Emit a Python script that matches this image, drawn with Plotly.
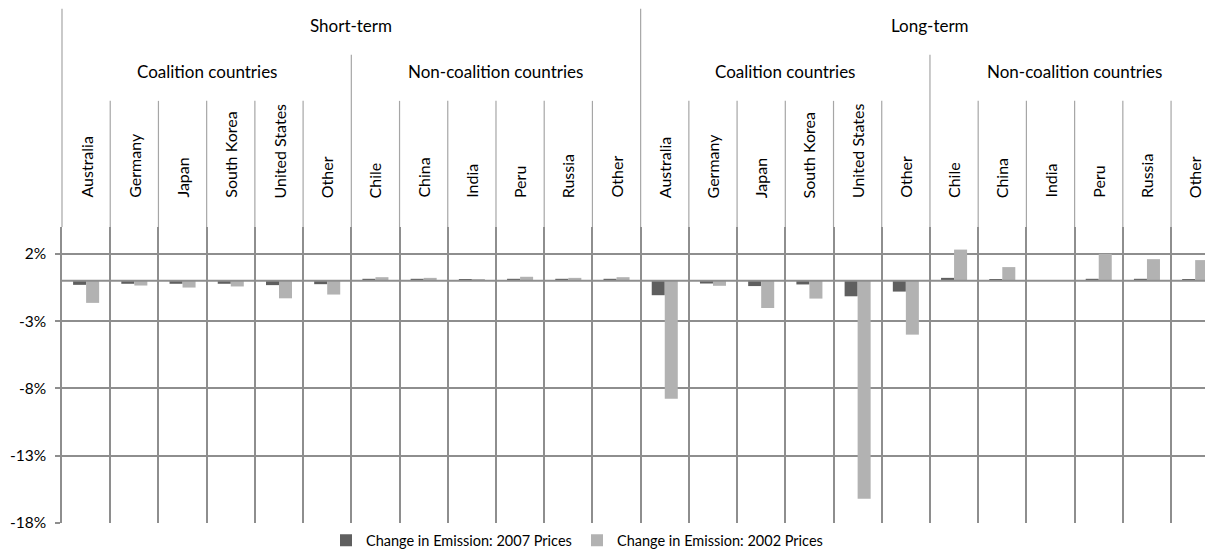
import plotly.graph_objects as go

# ---------------- data ----------------
terms = ["Short-term", "Long-term"]
groups = ["Coalition countries", "Non-coalition countries"]
coalition = ["Australia", "Germany", "Japan", "South Korea", "United States", "Other"]
non_coalition = ["Chile", "China", "India", "Peru", "Russia", "Other"]

st_2007 = [-0.30, -0.22, -0.22, -0.22, -0.32, -0.25, 0.15, 0.15, 0.08, 0.15, 0.15, 0.15]
st_2002 = [-1.64, -0.35, -0.50, -0.42, -1.30, -1.02, 0.27, 0.22, 0.08, 0.30, 0.22, 0.27]
lt_2007 = [-1.07, -0.20, -0.39, -0.27, -1.15, -0.80, 0.22, 0.12, 0.03, 0.15, 0.15, 0.10]
lt_2002 = [-8.76, -0.37, -2.02, -1.32, -16.20, -4.00, 2.32, 1.02, 0.03, 2.00, 1.61, 1.54]

series_names = ["Change in Emission: 2007 Prices", "Change in Emission: 2002 Prices"]
y_ticks = [2, -3, -8, -13, -18]
y_ticktext = ["2%", "-3%", "-8%", "-13%", "-18%"]

# ---------------- layout constants ----------------
OFF = 8  # page body margin offset
W, H = 1213, 550
ML, MR = 62 - OFF, 0
MT = 227 - OFF
MB = H - (522.7 - OFF)
col_w = 48.22
plot_w = W - ML - MR
plot_h = H - MT - MB
y_min, y_max = -18, 4

countries = coalition + non_coalition
labels = countries + countries
n = len(labels)
xs = list(range(n))
v2007 = st_2007 + lt_2007
v2002 = st_2002 + lt_2002

GRID = "#8e8e8e"
FONT = "Lato"

def py(pix):
    """page pixel y -> paper y"""
    return (H - MB - (pix - OFF)) / plot_h

def px(pix):
    """page pixel x -> paper x"""
    return (pix - OFF - ML) / plot_w

fig = go.Figure()
fig.add_trace(go.Bar(x=xs, y=v2007, name=series_names[0], marker_color="#5f5f5f",
                     marker_line_width=0))
fig.add_trace(go.Bar(x=xs, y=v2002, name=series_names[1], marker_color="#b2b2b2",
                     marker_line_width=0))

shapes = []
# zero line over bars
shapes.append(dict(type="line", xref="paper", yref="y", x0=0, x1=1, y0=0, y1=0,
                   line=dict(color=GRID, width=2), layer="above"))
# label-area dividers
for b in range(n + 1):
    xb = b - 0.5
    if b % 12 == 0:
        top = 9
    elif b % 6 == 0:
        top = 55
    else:
        top = 101
    if b == 0:
        shapes.append(dict(type="line", xref="paper", yref="paper", x0=0, x1=0,
                           y0=1, y1=py(top), line=dict(color="#a6a6a6", width=1.2)))
    else:
        shapes.append(dict(type="line", xref="x", yref="paper", x0=xb, x1=xb,
                           y0=1, y1=py(top), line=dict(color="#a6a6a6", width=1.2)))

annotations = []
for ti, t in enumerate(terms):
    annotations.append(dict(x=ti * 12 + 5.5, y=py(26), xref="x", yref="paper", text=t,
                            showarrow=False, font=dict(size=17, color="#000", family=FONT),
                            xanchor="center", yanchor="middle"))
    for gi, g in enumerate(groups):
        annotations.append(dict(x=ti * 12 + gi * 6 + 2.5, y=py(72), xref="x", yref="paper",
                                text=g, showarrow=False,
                                font=dict(size=17, color="#000", family=FONT),
                                xanchor="center", yanchor="middle"))
for i, lab in enumerate(labels):
    annotations.append(dict(x=i, y=py(200), xref="x", yref="paper", text=lab,
                            textangle=-90, showarrow=False,
                            font=dict(size=16, color="#000", family=FONT),
                            xanchor="center", yanchor="bottom"))

fig.update_layout(
    width=W, height=H,
    margin=dict(l=ML, r=MR, t=MT, b=MB, pad=0, autoexpand=False),
    plot_bgcolor="white", paper_bgcolor="white",
    barmode="group", bargap=0.46, bargroupgap=0,
    font=dict(family=FONT, size=14, color="#000"),
    showlegend=True,
    legend=dict(orientation="h", x=px(326), y=py(540), xanchor="left",
                yanchor="middle", font=dict(size=14.5, family=FONT), entrywidth=206,
                bgcolor="rgba(0,0,0,0)", itemwidth=30, traceorder="normal"),
    shapes=shapes, annotations=annotations,
    xaxis=dict(range=[-0.5, -0.5 + plot_w / col_w], tickvals=[b - 0.5 for b in range(n + 1)],
               showticklabels=False, showgrid=True, gridcolor=GRID, gridwidth=1.5,
               ticks="", zeroline=False, showline=False, fixedrange=True, automargin=False),
    yaxis=dict(range=[y_min, y_max], tickvals=y_ticks, ticktext=y_ticktext,
               showgrid=True, gridcolor=GRID, gridwidth=1.5, zeroline=False,
               showline=True, linecolor=GRID, linewidth=1.5, ticks="outside",
               ticklen=5, tickcolor=GRID, tickwidth=1.5,
               tickfont=dict(size=15.5, family=FONT, color="#000"),
               ticklabelstandoff=6, fixedrange=True, automargin=False),
)

fig.write_html("out.html")
